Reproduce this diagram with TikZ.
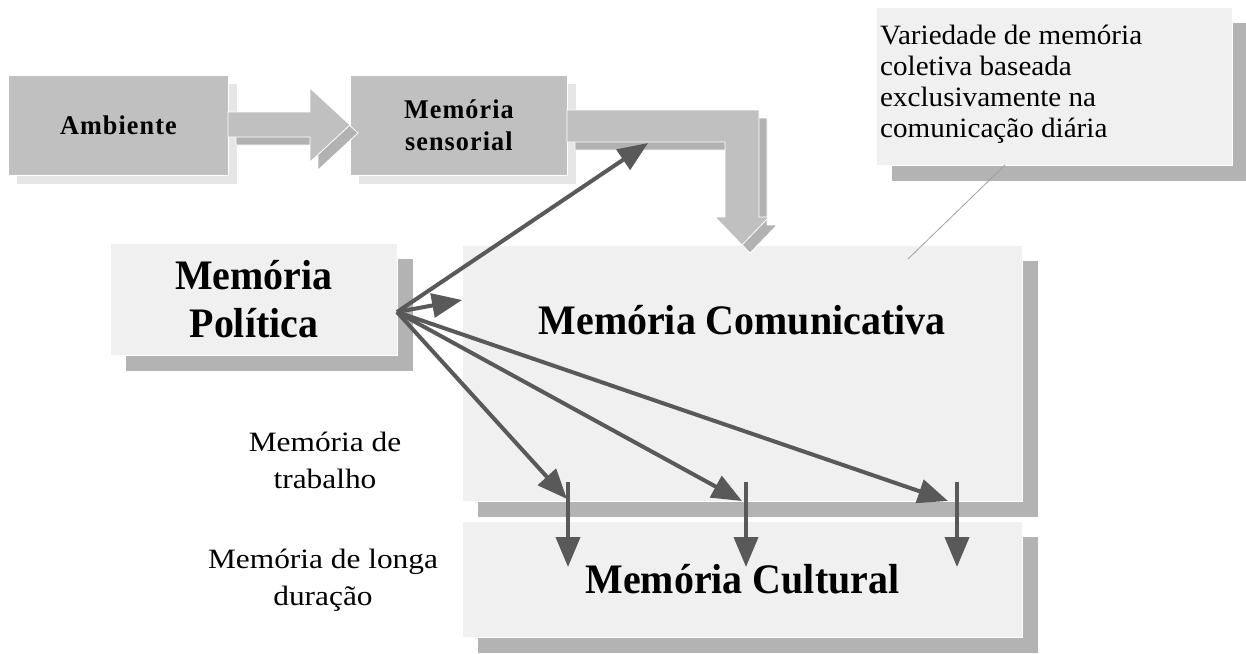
\documentclass[tikz,border=0pt]{standalone}
\usepackage{fontspec}
\setmainfont{Liberation Serif}
\usetikzlibrary{arrows.meta,shadows}
\definecolor{boxdark}{HTML}{C0C0C0}
\definecolor{boxlight}{HTML}{F0F0F0}
\definecolor{shlight}{HTML}{E6E6E6}
\definecolor{shdark}{HTML}{B3B3B3}
\definecolor{arrowgray}{HTML}{595959}
\definecolor{blockshadow}{HTML}{B2B2B2}
\definecolor{leader}{HTML}{A0A0A0}
\begin{document}
\begin{tikzpicture}[x=1pt,y=-1pt,
  graybox/.style={fill=boxdark, draw=white, line width=0.8pt, inner sep=0pt, anchor=north west, align=center,
    drop shadow={shadow xshift=9pt, shadow yshift=-9pt, fill=shlight, opacity=1}},
  lightbox/.style={fill=boxlight, draw=white, line width=0.8pt, inner sep=0pt, anchor=north west, align=center,
    drop shadow={shadow xshift=16pt, shadow yshift=-16pt, fill=shdark, opacity=1}},
  smallbold/.style={font=\fontsize{27}{32}\selectfont\bfseries\addfontfeature{LetterSpace=4,FakeStretch=0.97}},
  bigbold/.style={font=\fontsize{42}{48}\selectfont\bfseries\addfontfeature{FakeStretch=0.95}},
  notefont/.style={font=\fontsize{28}{31}\selectfont\addfontfeature{FakeStretch=1.04}},
  sidefont/.style={font=\fontsize{28}{37}\selectfont\addfontfeature{FakeStretch=1.12}},
  blockarrow/.style={fill=boxdark, draw=white, line width=0.8pt},
  blockshade/.style={fill=blockshadow, draw=white, line width=0.8pt},
  darrow/.style={draw=arrowgray, line width=4pt, -{Triangle[length=30pt,width=24pt]}},
  leaderline/.style={draw=leader, line width=0.8pt}
]
\useasboundingbox (0,0) rectangle (1246,653);

% boxes
\node[graybox, minimum width=220pt, minimum height=100pt, smallbold] (amb) at (8,75) {Ambiente};
\node[graybox, minimum width=217pt, minimum height=100pt, smallbold] (sens) at (350,75) {Memória\\sensorial};
\node[lightbox, minimum width=356pt, minimum height=158pt] (note) at (876,7) {};
\node[notefont, anchor=north west, align=left, inner sep=0pt] (notetxt) at (880,25)
  {Variedade de memória\\coletiva baseada\\exclusivamente na\\comunicação diária};
\node[lightbox, minimum width=287pt, minimum height=112pt, bigbold] (pol) at (110,243) {Memória\\Política};
\node[lightbox, minimum width=560pt, minimum height=256pt] (com) at (462,245) {};
\node[bigbold, anchor=base] (comtxt) at (742,334) {Memória Comunicativa};
\node[lightbox, minimum width=560pt, minimum height=116pt, bigbold] (cul) at (462,521) {Memória Cultural};

% side labels
\node[sidefont, anchor=north, align=center, inner sep=0pt] (trab) at (325,432) {Memória de\\trabalho};
\node[sidefont, anchor=north, align=center, inner sep=0pt] (longa) at (323,549) {Memória de longa\\duração};

% block arrows
\fill[blockshade, shift={(8,8)}] (228,112) -- (310,112) -- (310,88) -- (350,125) -- (310,162) -- (310,137) -- (228,137) -- cycle;
\fill[blockarrow] (228,112) -- (310,112) -- (310,88) -- (350,125) -- (310,162) -- (310,137) -- (228,137) -- cycle;
\fill[blockshade, shift={(8,8)}] (567,110) -- (759,110) -- (759,217) -- (769,217) -- (742,245) -- (715,217) -- (725,217) -- (725,142) -- (567,142) -- cycle;
\fill[blockarrow] (567,110) -- (759,110) -- (759,217) -- (769,217) -- (742,245) -- (715,217) -- (725,217) -- (725,142) -- (567,142) -- cycle;

% leader line of the note
\coordinate (leadA) at (1005,165);
\coordinate (leadB) at (908,259);
\draw[leaderline] (leadA) -- (leadB);

% dark arrows
\coordinate (src) at (397,312);
\coordinate (t1) at (648,143);
\coordinate (t2) at (462,300);
\coordinate (t3) at (567,499);
\coordinate (t4) at (742,501);
\coordinate (t5) at (948,501);
\draw[darrow] (src) -- (t1);
\draw[darrow] (src) -- (t2);
\draw[darrow] (src) -- (t3);
\draw[darrow] (src) -- (t4);
\draw[darrow] (src) -- (t5);
\coordinate (v1a) at (568,482); \coordinate (v1b) at (568,567);
\coordinate (v2a) at (746,482); \coordinate (v2b) at (746,567);
\coordinate (v3a) at (957,482); \coordinate (v3b) at (957,567);
\draw[darrow] (v1a) -- (v1b);
\draw[darrow] (v2a) -- (v2b);
\draw[darrow] (v3a) -- (v3b);
\end{tikzpicture}
\end{document}
